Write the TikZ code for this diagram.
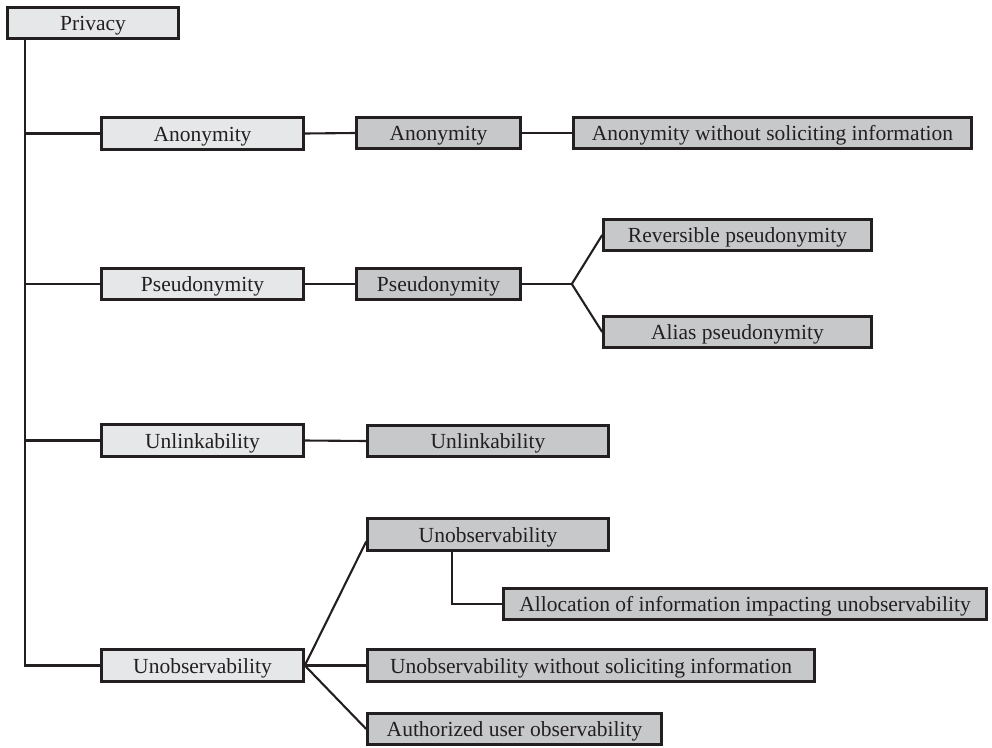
\documentclass[tikz,border=0pt]{standalone}
\usepackage{fontspec}
\setmainfont{Liberation Serif}
\definecolor{edge}{HTML}{231F20}
\definecolor{lightbox}{HTML}{E6E7E8}
\definecolor{darkbox}{HTML}{C7C8CA}
\tikzset{
  boxbase/.style={draw=edge, line width=2.6pt, rectangle, inner sep=0pt,
    minimum height=31.5pt, text height=15pt, text depth=0pt,
    text=edge, font=\fontsize{21.5}{25}\selectfont},
  lbox/.style={boxbase, fill=lightbox},
  dbox/.style={boxbase, fill=darkbox},
  conn/.style={draw=edge, line width=2.1pt}
}
\begin{document}
\begin{tikzpicture}[x=1pt, y=-1pt]
\useasboundingbox (0,0) rectangle (992,747);
% level 0
\node[lbox, minimum width=171pt] (privacy) at (93,23) {Privacy};
% level 1
\node[lbox, minimum width=202pt] (l1) at (202.5,133.5) {Anonymity};
\node[lbox, minimum width=202pt] (l2) at (202.5,284) {Pseudonymity};
\node[lbox, minimum width=202pt] (l3) at (202.5,440.5) {Unlinkability};
\node[lbox, minimum width=202pt] (l4) at (202.5,665.5) {Unobservability};
% level 2
\node[dbox, minimum width=164pt] (a2) at (438.5,133) {Anonymity};
\node[dbox, minimum width=398pt] (a3) at (772.5,133) {Anonymity without soliciting information};
\node[dbox, minimum width=164pt] (p2) at (438.5,284) {Pseudonymity};
\node[dbox, minimum width=268pt] (p3) at (737.5,235) {Reversible pseudonymity};
\node[dbox, minimum width=268pt] (p4) at (737.5,332) {Alias pseudonymity};
\node[dbox, minimum width=241pt] (u2) at (488,441) {Unlinkability};
\node[dbox, minimum width=241pt] (o2) at (488,534.5) {Unobservability};
\node[dbox, minimum width=483pt] (o3) at (745,604) {Allocation of information impacting unobservability};
\node[dbox, minimum width=447pt] (o4) at (591,665.5) {Unobservability without soliciting information};
\node[dbox, minimum width=294pt] (o5) at (514.5,729) {Authorized user observability};
% connectors
\coordinate (trunk) at ([xshift=19pt]privacy.south west);
\draw[conn] (trunk) |- (l4.west);
\foreach \n in {l1,l2,l3} \draw[conn] (\n.west) -- (\n.west -| trunk);
\draw[conn] (l1.east) -- (a2.west);
\draw[conn] (a2.east) -- (a3.west);
\draw[conn] (l2.east) -- (p2.west);
\coordinate (fork1) at ([xshift=50pt]p2.east);
\draw[conn] (p2.east) -- (fork1);
\draw[conn] (fork1) -- (p3.west);
\draw[conn] (fork1) -- (p4.west);
\draw[conn] (l3.east) -- (u2.west);
\draw[conn] (l4.east) -- ([yshift=-7pt]o2.west);
\draw[conn] (l4.east) -- (o4.west);
\draw[conn] (l4.east) -- (o5.west);
\draw[conn] ([xshift=86pt]o2.south west) |- (o3.west);
\end{tikzpicture}
\end{document}
